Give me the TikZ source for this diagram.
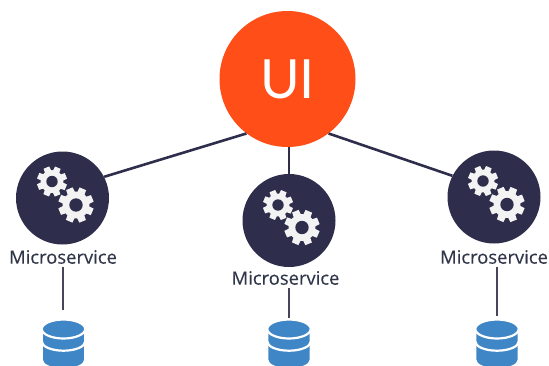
\documentclass[tikz,border=0pt]{standalone}
\usepackage{fontspec}
\setmainfont{Open Sans}
\newfontfamily\uifont{Lato}
\newfontfamily\lblfont[FakeBold=0.25]{Open Sans}
\definecolor{navy}{HTML}{2E2E4C}
\definecolor{flame}{HTML}{FF4E18}
\definecolor{dbblue}{HTML}{3F86C6}
\definecolor{gearw}{HTML}{F3F3F3}
\definecolor{labelc}{HTML}{30364A}
\tikzset{
  x=1pt,y=-1pt,
  svc/.style={circle,fill=navy,minimum size=93pt,inner sep=0pt},
  uinode/.style={circle,fill=flame,minimum size=136pt,inner sep=0pt,text=white,font=\uifont\fontsize{54}{54}\selectfont},
  lbl/.style={text=labelc,font=\lblfont\fontsize{18.4}{20}\selectfont,inner sep=0pt},
  conn/.style={draw=navy,line width=2.6pt},
  thin conn/.style={draw=navy!70!gray,line width=1.2pt},
  pics/gear/.style={code={
    \fill[gearw] (0,0) circle[radius=0.76*#1];
    \foreach \a in {0,45,...,315}{
      \fill[gearw,rotate=\a+22] (-0.27*#1,0) -- (-0.2*#1,1.0*#1) -- (0.2*#1,1.0*#1) -- (0.27*#1,0) -- cycle;
    }
    \fill[navy] (0,0) circle[radius=0.38*#1];
  }},
  pics/dbstack/.style={code={
    \foreach \s in {31,12.5}{
      \fill[dbblue,draw=white,line width=2.2pt] (-21.7,0) -- (-21.7,\s) arc[start angle=180,end angle=360,x radius=21.7,y radius=-9.2] -- (21.7,0) -- cycle;
    }
    \fill[dbblue,draw=white,line width=2.2pt] (0,0) ellipse[x radius=21.7,y radius=9.5];
  }}
}
\begin{document}
\begin{tikzpicture}
\useasboundingbox (0,0) rectangle (549,365);
\node[uinode] (ui) at (287.5,79) {UI};
\node[svc] (m1) at (62.5,198) {};
\node[svc] (m2) at (289,220.5) {};
\node[svc] (m3) at (494,197) {};
\node[lbl] (l1) at (63,257) {Microservice};
\node[lbl] (l2) at (285.5,278) {Microservice};
\node[lbl] (l3) at (494,257) {Microservice};
\coordinate (d1) at (63,310);
\coordinate (d2) at (289,318);
\coordinate (d3) at (497,316);
\draw[conn] (ui.233) -- (m1.27);
\draw[conn] (m2.north |- ui.south) -- (m2.north);
\draw[conn] (ui.307) -- (m3.153);
\draw[thin conn] (d1 |- l1.south) ++(0,3) -- (d1);
\draw[thin conn] (d2 |- l2.south) ++(0,3) -- (d2);
\draw[thin conn] (d3 |- l3.south) ++(0,3) -- (d3);
\pic at (52,181.5) {gear=15};
\pic at (76,205) {gear=17.6};
\pic at (278,205) {gear=15};
\pic at (302,227.5) {gear=17.6};
\pic at (483,181) {gear=15};
\pic at (507,204.5) {gear=17.6};
\begin{scope}
\clip (0,0) rectangle (549,365);
\pic at (63.5,329) {dbstack};
\pic at (289,329) {dbstack};
\pic at (497,329) {dbstack};
\end{scope}
\end{tikzpicture}
\end{document}
